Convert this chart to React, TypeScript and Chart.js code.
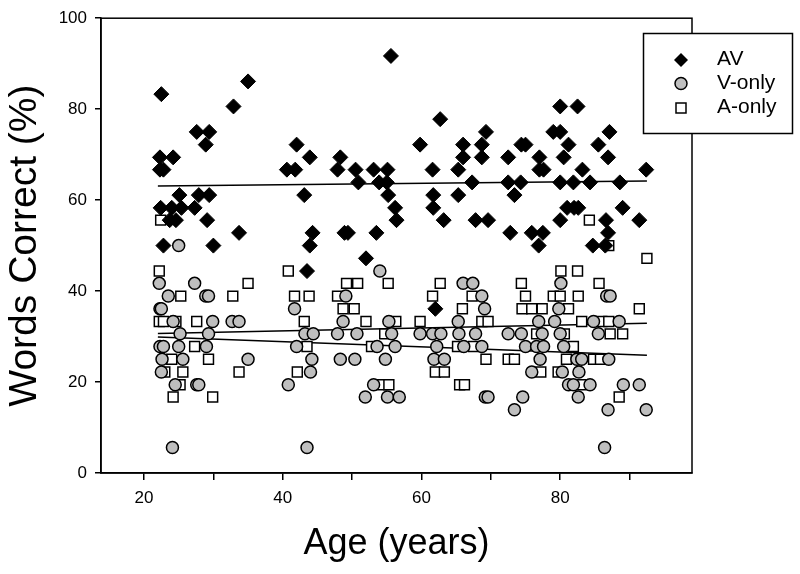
import React, { useEffect, useRef } from 'react';
import { Chart, registerables } from 'chart.js';

Chart.register(...registerables);

const FONT = "'Liberation Sans', Arial, Helvetica, sans-serif";

// AV (audio-visual) scores: age (years) and words correct (%)
const avAge = [
  22.5, 35.0, 32.9, 27.6, 29.4, 28.9, 22.3, 24.2, 22.3, 22.8,
  25.1, 27.9, 29.4, 22.4, 24.0, 25.4, 27.3, 23.7, 24.6, 29.1,
  22.8, 30.0, 33.7, 42.0, 43.9, 40.6, 41.8, 43.1, 44.3, 43.9,
  43.5, 48.3, 47.9, 50.5, 50.9, 53.1, 55.1, 53.9, 55.0, 55.2,
  56.2, 56.4, 48.9, 49.4, 53.5, 52.0, 55.6,
  62.7, 59.8, 66.0, 66.0, 68.7, 68.7, 69.3, 61.6, 65.3, 67.3,
  72.5, 72.5, 74.4, 75.0, 74.3, 73.4, 77.0, 77.6, 77.0, 79.0,
  80.0, 80.0, 82.5, 81.2, 80.5, 80.0, 81.9, 84.3, 83.2, 81.0,
  82.0, 82.6, 80.0, 85.5, 87.1, 86.9, 88.6, 89.0, 86.6, 86.9,
  84.7, 86.5, 91.4, 92.4, 61.7, 61.7, 63.2, 67.8, 69.6, 72.8,
  75.9, 77.5, 76.9, 65.3, 62.0,
];
const avPct = [
  83.3, 86.1, 80.6, 75.0, 75.0, 72.2, 69.4, 69.4, 66.7, 66.7,
  61.1, 61.1, 61.1, 58.3, 58.3, 58.3, 58.3, 55.6, 55.6, 55.6,
  50.0, 50.0, 52.8, 72.2, 69.4, 66.7, 66.7, 61.1, 52.8, 50.0,
  44.4, 69.4, 66.7, 66.7, 63.9, 66.7, 66.7, 63.9, 63.9, 61.1,
  58.3, 55.6, 52.8, 52.8, 52.8, 47.2, 91.7,
  77.8, 72.2, 72.2, 69.4, 72.2, 69.4, 75.0, 66.7, 66.7, 63.9,
  69.4, 63.9, 72.2, 72.2, 63.9, 61.1, 69.4, 66.7, 66.7, 75.0,
  75.0, 80.6, 80.6, 72.2, 69.4, 63.9, 63.9, 63.9, 66.7, 58.3,
  58.3, 58.3, 55.6, 72.2, 75.0, 69.4, 63.9, 58.3, 55.6, 52.8,
  50.0, 50.0, 55.6, 66.7, 61.1, 58.3, 55.6, 55.6, 55.6, 52.8,
  52.8, 52.8, 50.0, 61.1, 36.1,
];

// V-only scores
const vAge = [
  22.2, 27.3, 23.5, 28.9, 29.3, 22.3, 22.5, 41.7, 24.2, 29.9,
  32.7, 33.7, 25.2, 29.3, 43.2, 44.4, 22.3, 22.8, 25.0, 29.0,
  42.0, 22.6, 25.6, 35.0, 44.2, 22.5, 44.0, 24.5, 27.6, 27.9,
  40.8, 24.1, 43.5, 25.0,
  54.0, 66.0, 67.4, 49.1, 68.7, 69.1, 48.7, 55.3, 65.3, 47.9,
  50.7, 55.7, 59.8, 61.6, 62.8, 65.4, 67.8, 53.6, 56.2, 62.2,
  66.1, 68.7, 48.3, 50.4, 54.8, 61.8, 63.3, 53.1, 51.9, 55.1,
  56.8, 69.2,
  80.1, 86.7, 87.2, 79.8, 76.9, 79.2, 84.8, 88.5, 72.5, 74.4,
  77.4, 80.0, 85.5, 75.0, 76.6, 77.6, 80.5, 77.1, 82.4, 83.1,
  87.0, 75.9, 80.3, 82.7, 81.2, 81.9, 84.3, 89.1, 91.4, 69.6,
  74.6, 82.6, 73.4, 86.9, 92.4, 86.4,
];
const vPct = [
  41.7, 41.7, 38.9, 38.9, 38.9, 36.1, 36.1, 36.1, 33.3, 33.3,
  33.3, 33.3, 30.6, 30.6, 30.6, 30.6, 27.8, 27.8, 27.8, 27.8,
  27.8, 25.0, 25.0, 25.0, 25.0, 22.2, 22.2, 19.4, 19.4, 19.4,
  19.4, 5.6, 5.6, 50.0,
  44.4, 41.7, 41.7, 38.9, 38.9, 36.1, 33.3, 33.3, 33.3, 30.6,
  30.6, 30.6, 30.6, 30.6, 30.6, 30.6, 30.6, 27.8, 27.8, 27.8,
  27.8, 27.8, 25.0, 25.0, 25.0, 25.0, 25.0, 19.4, 16.7, 16.7,
  16.7, 16.7,
  41.7, 38.9, 38.9, 36.1, 33.3, 33.3, 33.3, 33.3, 30.6, 30.6,
  30.6, 30.6, 30.6, 27.8, 27.8, 27.8, 27.8, 25.0, 25.0, 25.0,
  25.0, 22.2, 22.2, 22.2, 19.4, 19.4, 19.4, 19.4, 19.4, 16.7,
  16.7, 16.7, 13.9, 13.9, 13.9, 5.6,
];

// A-only scores
const aAge = [
  22.4, 22.2, 40.8, 35.0, 25.3, 32.8, 41.7, 43.8, 22.2, 22.8,
  24.6, 27.6, 43.1, 27.3, 43.5, 24.0, 29.3, 23.0, 25.6, 33.7,
  42.1, 25.2, 24.2, 29.9,
  49.2, 50.8, 55.2, 62.7, 47.9, 61.6, 67.3, 48.7, 50.3, 65.9,
  52.0, 56.3, 59.8, 68.7, 54.7, 52.8, 65.2, 67.5, 62.0, 63.3,
  54.2, 55.3, 65.5, 66.2,
  92.5, 80.1, 82.5, 74.4, 85.6, 75.0, 79.0, 80.0, 82.6, 74.5,
  75.9, 77.4, 81.2, 91.4, 69.6, 83.1, 86.0, 87.0, 76.6, 80.6,
  87.2, 89.0, 81.9, 69.3, 72.5, 73.4, 80.9, 84.8, 85.8, 77.2,
  79.7, 83.0, 88.5, 84.2, 87.0,
];
const aPct = [
  55.6, 44.4, 44.4, 41.7, 38.9, 38.9, 38.9, 38.9, 33.3, 33.3,
  33.3, 33.3, 33.3, 27.8, 27.8, 25.0, 25.0, 22.2, 22.2, 22.2,
  22.2, 19.4, 16.7, 16.7,
  41.7, 41.7, 41.7, 41.7, 38.9, 38.9, 38.9, 36.1, 36.1, 36.1,
  33.3, 33.3, 33.3, 33.3, 30.6, 27.8, 27.8, 27.8, 22.2, 22.2,
  19.4, 19.4, 19.4, 19.4,
  47.2, 44.4, 44.4, 41.7, 41.7, 38.9, 38.9, 38.9, 38.9, 36.1,
  36.1, 36.1, 36.1, 36.1, 33.3, 33.3, 33.3, 33.3, 30.6, 30.6,
  30.6, 30.6, 27.8, 25.0, 25.0, 25.0, 25.0, 25.0, 25.0, 22.2,
  22.2, 19.4, 16.7, 55.6, 50.0,
];

// Regression lines (end points)
const fitAge = [22, 92.5];
const avFit = [63.1, 64.2];
const vFit = [29.9, 25.9];
const aFit = [30.7, 32.9];

const xLabelTicks = [20, 40, 60, 80];
const legendLabels = ['AV', 'V-only', 'A-only'];

const toPts = (xs: number[], ys: number[]) => xs.map((x, i) => ({ x, y: ys[i] }));

const framePlugin = {
  id: 'frameAndLegend',
  afterDraw(chart: any) {
    const { ctx, chartArea } = chart;
    ctx.save();
    ctx.strokeStyle = '#000';
    ctx.lineWidth = 1.5;
    ctx.strokeRect(chartArea.left, chartArea.top, chartArea.right - chartArea.left, chartArea.bottom - chartArea.top);

    // legend box
    const bx = 643.5, by = 33.5, bw = 149, bh = 100;
    ctx.fillStyle = '#fff';
    ctx.fillRect(bx, by, bw, bh);
    ctx.strokeRect(bx, by, bw, bh);

    const mx = 681;
    const rows = [59, 83.5, 107.5];
    const my = [60, 83.5, 108];
    // diamond
    ctx.beginPath();
    ctx.moveTo(mx - 7, my[0]);
    ctx.lineTo(mx, my[0] - 7);
    ctx.lineTo(mx + 7, my[0]);
    ctx.lineTo(mx, my[0] + 7);
    ctx.closePath();
    ctx.fillStyle = '#000';
    ctx.fill();
    // circle
    ctx.beginPath();
    ctx.arc(mx, my[1], 6, 0, Math.PI * 2);
    ctx.fillStyle = '#bfbfbf';
    ctx.fill();
    ctx.lineWidth = 1.5;
    ctx.stroke();
    // square
    ctx.fillStyle = '#fff';
    ctx.fillRect(mx - 5, my[2] - 5, 10, 10);
    ctx.strokeRect(mx - 5, my[2] - 5, 10, 10);

    ctx.fillStyle = '#000';
    ctx.font = `21px ${FONT}`;
    ctx.textBaseline = 'middle';
    ctx.textAlign = 'left';
    legendLabels.forEach((t, i) => ctx.fillText(t, 717, rows[i]));
    ctx.restore();
  },
};

export default function App() {
  const ref = useRef<HTMLCanvasElement | null>(null);

  useEffect(() => {
    document.body.style.margin = '0';
    const canvas = ref.current;
    if (!canvas) return;
    const lineDs = (label: string, ys: number[], order: number) => ({
      label,
      data: toPts(fitAge, ys),
      showLine: true,
      pointRadius: 0,
      borderColor: '#000',
      borderWidth: 1.5,
      fill: false,
      order,
    });
    const chart = new Chart(canvas, {
      type: 'scatter',
      data: {
        datasets: [
          {
            label: 'AV',
            data: toPts(avAge, avPct),
            pointStyle: 'rectRot',
            pointRadius: 7.5,
            backgroundColor: '#000',
            borderColor: '#000',
            borderWidth: 1,
            order: 0,
          },
          {
            label: 'V-only',
            data: toPts(vAge, vPct),
            pointStyle: 'circle',
            pointRadius: 6,
            backgroundColor: '#bfbfbf',
            borderColor: '#000',
            borderWidth: 1.5,
            order: 1,
          },
          {
            label: 'A-only',
            data: toPts(aAge, aPct),
            pointStyle: 'rect',
            pointRadius: 7,
            backgroundColor: '#fff',
            borderColor: '#000',
            borderWidth: 1.5,
            order: 2,
          },
          lineDs('AV fit', avFit, 3),
          lineDs('V-only fit', vFit, 4),
          lineDs('A-only fit', aFit, 5),
        ] as any,
      },
      options: {
        responsive: false,
        animation: false,
        devicePixelRatio: 1,
        layout: { padding: { left: 0, right: 108, top: 16, bottom: 0 } },
        plugins: { legend: { display: false }, tooltip: { enabled: false } },
        scales: {
          x: {
            type: 'linear',
            min: 13.8,
            max: 99,
            afterFit: (s: any) => { s.height = 101; },
            ticks: {
              stepSize: 10,
              includeBounds: false,
              autoSkip: false,
              maxRotation: 0,
              padding: 8,
              color: '#000',
              font: { size: 17, family: FONT },
              callback: (v: any) => (xLabelTicks.includes(Number(v)) ? String(v) : ''),
            },
            grid: { drawOnChartArea: false, drawTicks: true, tickLength: 7, color: '#000', lineWidth: 1.5 },
            border: { display: true, color: '#000', width: 1.5 },
            title: {
              display: true,
              text: 'Age (years)',
              color: '#000',
              font: { size: 36, family: FONT },
              padding: { top: 0, bottom: 8 },
            },
          },
          y: {
            type: 'linear',
            min: 0,
            max: 100,
            afterFit: (s: any) => { s.width = 101; },
            ticks: {
              stepSize: 20,
              padding: 8,
              color: '#000',
              font: { size: 17, family: FONT },
            },
            grid: { drawOnChartArea: false, drawTicks: true, tickLength: 6, color: '#000', lineWidth: 1.5 },
            border: { display: true, color: '#000', width: 1.5 },
            title: {
              display: true,
              text: 'Words Correct (%)',
              color: '#000',
              font: { size: 39, family: FONT },
              padding: { top: 2, bottom: 0 },
            },
          },
        },
      } as any,
      plugins: [framePlugin],
    });
    return () => chart.destroy();
  }, []);

  return (
    <div style={{ position: 'absolute', left: 0, top: 0, width: 800, height: 574, background: '#fff' }}>
      <canvas ref={ref} width={800} height={574} style={{ display: 'block', width: 800, height: 574 }} />
    </div>
  );
}
